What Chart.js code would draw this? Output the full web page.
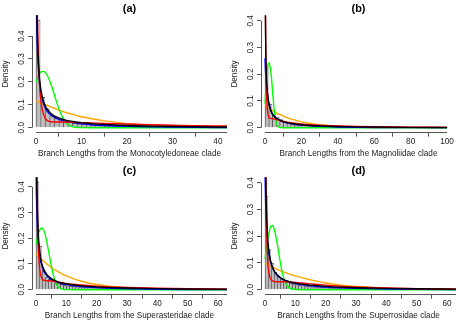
<!DOCTYPE html>
<html>
<head>
<meta charset="utf-8">
<script src="https://cdn.jsdelivr.net/npm/chart.js@4.4.1/dist/chart.umd.min.js"></script>
<style>
  html, body { margin: 0; padding: 0; background: #fff; }
  #grid { display: grid; grid-template-columns: 229px 229px; grid-template-rows: 162px 162px; width: 458px; height: 324px; }
  canvas { display: block; }
</style>
</head>
<body>
<div id="grid">
  <canvas id="panelA" width="229" height="162"></canvas>
  <canvas id="panelB" width="229" height="162"></canvas>
  <canvas id="panelC" width="229" height="162"></canvas>
  <canvas id="panelD" width="229" height="162"></canvas>
</div>
<script>
const yTicks = [0, 0.1, 0.2, 0.3, 0.4];
const yTickLabels = ["0.0", "0.1", "0.2", "0.3", "0.4"];

// (a) Monocotyledoneae
const xTicksA = [0, 10, 20, 30, 40];
const binWidthA = 1;
const histA = [0.47, 0.133, 0.082, 0.053, 0.041, 0.033, 0.027, 0.023, 0.02, 0.018,
    0.016, 0.014, 0.013, 0.012, 0.011, 0.01, 0.009, 0.0085, 0.008, 0.0075,
    0.007, 0.0065, 0.006, 0.0055, 0.005, 0.0046, 0.0042, 0.0038, 0.0035, 0.0032,
    0.003, 0.0027, 0.0025, 0.0023, 0.0021, 0.0019, 0.0017, 0.0016, 0.0015, 0.0014,
    0.0013, 0.0012];
const curveXA  = [0, 0.1, 0.25, 0.5, 0.75, 1, 1.5, 2, 2.5, 3, 3.5, 4, 4.5, 5, 5.5, 6, 6.5, 7, 8, 9, 10, 12, 15, 20, 25, 30, 35, 42];
const blackA   = [1.2, 0.7, 0.45, 0.3, 0.22, 0.175, 0.125, 0.097, 0.08, 0.068, 0.059, 0.052, 0.047, 0.043, 0.039, 0.036, 0.033, 0.031, 0.027, 0.024, 0.022, 0.018, 0.014, 0.0095, 0.007, 0.0052, 0.004, 0.003];
const redA     = [1.5, 0.9, 0.55, 0.33, 0.2, 0.13, 0.07, 0.042, 0.031, 0.027, 0.026, 0.025, 0.025, 0.025, 0.025, 0.025, 0.0248, 0.0245, 0.024, 0.023, 0.022, 0.021, 0.019, 0.016, 0.013, 0.011, 0.009, 0.0075];
const blueA    = [0.6, 0.5, 0.38, 0.27, 0.2, 0.16, 0.115, 0.088, 0.071, 0.06, 0.052, 0.046, 0.041, 0.037, 0.034, 0.031, 0.028, 0.026, 0.022, 0.019, 0.017, 0.013, 0.0095, 0.006, 0.0038, 0.0025, 0.0016, 0.0009];
const greenA   = [0.2, 0.205, 0.212, 0.225, 0.235, 0.242, 0.246, 0.242, 0.228, 0.205, 0.178, 0.146, 0.114, 0.085, 0.06, 0.04, 0.025, 0.015, 0.0045, 0.0012, 0.0003, 0, 0, 0, 0, 0, 0, 0];
const orangeA  = [0.117, 0.116, 0.115, 0.113, 0.111, 0.109, 0.105, 0.101, 0.097, 0.093, 0.089, 0.085, 0.081, 0.077, 0.074, 0.07, 0.067, 0.064, 0.058, 0.053, 0.048, 0.04, 0.03, 0.018, 0.012, 0.008, 0.005, 0.003];

// (b) Magnoliidae
const xTicksB = [0, 20, 40, 60, 80, 100];
const binWidthB = 2;
const histB = [0.23, 0.088, 0.052, 0.038, 0.03, 0.025, 0.021, 0.018, 0.015, 0.013,
    0.011, 0.0095, 0.0082, 0.007, 0.006, 0.0052, 0.0045, 0.0039, 0.0034, 0.003,
    0.0026, 0.0023, 0.002, 0.0018, 0.0016, 0.0014, 0.0012, 0.0011, 0.001, 0.0009,
    0.0008, 0.0007, 0.0007, 0.0006, 0.0006, 0.0005, 0.0005, 0.0004, 0.0004, 0.0004,
    0.0003, 0.0003, 0.0003, 0.0002, 0.0002, 0.0002, 0.0002, 0.0001, 0.0001, 0.0001];
const curveXB  = [0, 0.1, 0.25, 0.5, 1, 1.5, 2, 2.5, 3, 3.5, 4, 4.5, 5, 5.5, 6, 7, 8, 10, 12, 15, 20, 25, 30, 40, 50, 60, 80, 100];
const blackB   = [1.2, 0.6, 0.4, 0.27, 0.16, 0.118, 0.094, 0.078, 0.067, 0.058, 0.052, 0.047, 0.043, 0.039, 0.036, 0.032, 0.028, 0.023, 0.019, 0.015, 0.011, 0.0085, 0.0068, 0.0045, 0.0032, 0.0024, 0.0014, 0.0009];
const redB     = [1.5, 0.8, 0.45, 0.22, 0.1, 0.055, 0.04, 0.036, 0.035, 0.034, 0.034, 0.033, 0.033, 0.032, 0.031, 0.029, 0.027, 0.024, 0.021, 0.018, 0.014, 0.011, 0.009, 0.0065, 0.0048, 0.0036, 0.002, 0.0012];
const blueB    = [0.26, 0.24, 0.215, 0.19, 0.15, 0.12, 0.098, 0.082, 0.07, 0.061, 0.054, 0.048, 0.044, 0.04, 0.037, 0.032, 0.028, 0.022, 0.018, 0.014, 0.0095, 0.0068, 0.005, 0.0028, 0.0016, 0.001, 0.0004, 0.0002];
const greenB   = [0.09, 0.1, 0.12, 0.15, 0.2, 0.232, 0.242, 0.238, 0.22, 0.19, 0.15, 0.108, 0.07, 0.042, 0.023, 0.006, 0.0012, 0, 0, 0, 0, 0, 0, 0, 0, 0, 0, 0];
const orangeB  = [0.085, 0.0845, 0.084, 0.083, 0.08, 0.077, 0.075, 0.072, 0.07, 0.067, 0.065, 0.063, 0.061, 0.059, 0.057, 0.053, 0.05, 0.044, 0.038, 0.031, 0.022, 0.016, 0.011, 0.0058, 0.003, 0.0016, 0.0004, 0.0001];

// (c) Superasteridae
const xTicksC = [0, 10, 20, 30, 40, 50, 60];
const binWidthC = 1;
const histC = [0.42, 0.17, 0.075, 0.05, 0.04, 0.033, 0.028, 0.024, 0.021, 0.018,
    0.016, 0.014, 0.013, 0.012, 0.011, 0.01, 0.009, 0.0085, 0.008, 0.0075,
    0.007, 0.0065, 0.006, 0.0056, 0.0052, 0.0048, 0.0045, 0.0042, 0.0039, 0.0036,
    0.0034, 0.0032, 0.003, 0.0028, 0.0026, 0.0024, 0.0022, 0.0021, 0.002, 0.0019,
    0.0018, 0.0017, 0.0016, 0.0015, 0.0014, 0.0013, 0.0012, 0.0011, 0.001, 0.001,
    0.0009, 0.0009, 0.0008, 0.0008, 0.0007, 0.0007, 0.0006, 0.0006, 0.0005, 0.0005,
    0.0005, 0.0004, 0.0004];
const curveXC  = [0, 0.1, 0.25, 0.5, 0.75, 1, 1.5, 2, 2.5, 3, 3.5, 4, 4.5, 5, 5.5, 6, 6.5, 7, 8, 9, 10, 12, 15, 20, 25, 30, 40, 50, 63];
const blackC   = [1.2, 0.65, 0.43, 0.29, 0.22, 0.175, 0.125, 0.098, 0.081, 0.069, 0.06, 0.053, 0.048, 0.044, 0.04, 0.037, 0.034, 0.032, 0.028, 0.025, 0.023, 0.019, 0.015, 0.011, 0.0082, 0.0064, 0.0042, 0.0029, 0.0019];
const redC     = [1.5, 0.9, 0.55, 0.3, 0.18, 0.11, 0.06, 0.042, 0.037, 0.036, 0.035, 0.035, 0.035, 0.034, 0.033, 0.032, 0.031, 0.03, 0.028, 0.026, 0.024, 0.021, 0.018, 0.014, 0.011, 0.0088, 0.0057, 0.0037, 0.0022];
const blueC    = [0.5, 0.4, 0.32, 0.24, 0.19, 0.155, 0.115, 0.09, 0.074, 0.063, 0.055, 0.049, 0.044, 0.04, 0.036, 0.033, 0.031, 0.029, 0.025, 0.022, 0.02, 0.016, 0.012, 0.008, 0.0055, 0.0038, 0.0018, 0.0009, 0.0004];
const greenC   = [0.178, 0.183, 0.19, 0.203, 0.215, 0.225, 0.237, 0.24, 0.233, 0.216, 0.19, 0.16, 0.128, 0.096, 0.068, 0.045, 0.028, 0.016, 0.005, 0.0013, 0.0003, 0, 0, 0, 0, 0, 0, 0, 0];
const orangeC  = [0.14, 0.139, 0.137, 0.134, 0.131, 0.128, 0.122, 0.116, 0.111, 0.106, 0.101, 0.096, 0.092, 0.087, 0.083, 0.079, 0.076, 0.072, 0.065, 0.059, 0.054, 0.044, 0.033, 0.02, 0.013, 0.008, 0.003, 0.0012, 0.0004];

// (d) Superrosidae
const xTicksD = [0, 10, 20, 30, 40, 50, 60];
const binWidthD = 1;
const histD = [0.35, 0.15, 0.1, 0.065, 0.05, 0.04, 0.034, 0.029, 0.025, 0.022,
    0.019, 0.017, 0.015, 0.014, 0.013, 0.012, 0.011, 0.01, 0.0093, 0.0086,
    0.008, 0.0074, 0.0069, 0.0064, 0.006, 0.0056, 0.0052, 0.0048, 0.0045, 0.0042,
    0.0039, 0.0036, 0.0034, 0.0032, 0.003, 0.0028, 0.0026, 0.0024, 0.0022, 0.0021,
    0.002, 0.0019, 0.0018, 0.0017, 0.0016, 0.0015, 0.0014, 0.0013, 0.0012, 0.0011,
    0.001, 0.001, 0.0009, 0.0009, 0.0008, 0.0008, 0.0007, 0.0007, 0.0006, 0.0006,
    0.0005, 0.0005, 0.0005];
const curveXD  = [0, 0.1, 0.25, 0.5, 0.75, 1, 1.5, 2, 2.5, 3, 3.5, 4, 4.5, 5, 5.5, 6, 6.5, 7, 8, 9, 10, 12, 15, 20, 25, 30, 40, 50, 63];
const blackD   = [1.2, 0.65, 0.44, 0.3, 0.22, 0.175, 0.128, 0.1, 0.083, 0.071, 0.062, 0.056, 0.05, 0.046, 0.042, 0.039, 0.036, 0.034, 0.03, 0.027, 0.025, 0.021, 0.017, 0.0125, 0.0095, 0.0075, 0.005, 0.0034, 0.0022];
const redD     = [1.5, 0.9, 0.5, 0.25, 0.14, 0.09, 0.052, 0.038, 0.033, 0.031, 0.03, 0.03, 0.03, 0.03, 0.03, 0.03, 0.0298, 0.0295, 0.029, 0.028, 0.027, 0.025, 0.022, 0.017, 0.013, 0.01, 0.0062, 0.0038, 0.002];
const blueD    = [0.45, 0.38, 0.31, 0.24, 0.195, 0.162, 0.122, 0.098, 0.082, 0.07, 0.061, 0.054, 0.049, 0.045, 0.041, 0.038, 0.035, 0.033, 0.029, 0.026, 0.023, 0.019, 0.015, 0.01, 0.007, 0.005, 0.0026, 0.0014, 0.0007];
const greenD   = [0.116, 0.123, 0.135, 0.155, 0.175, 0.193, 0.222, 0.238, 0.24, 0.228, 0.205, 0.175, 0.14, 0.105, 0.075, 0.05, 0.032, 0.02, 0.007, 0.002, 0.0005, 0, 0, 0, 0, 0, 0, 0, 0];
const orangeD  = [0.1, 0.0995, 0.099, 0.097, 0.095, 0.094, 0.091, 0.088, 0.085, 0.082, 0.079, 0.077, 0.074, 0.072, 0.069, 0.067, 0.065, 0.063, 0.059, 0.055, 0.052, 0.045, 0.037, 0.025, 0.017, 0.012, 0.0055, 0.0026, 0.001];

const FONT = "'Liberation Sans', Arial, sans-serif";
const TEXT = "#222";
const AXIS = "#555";

/**
 * R style axis lines: y from first to last tick, x from 0 to axisEnd
 */
const axisLines = {
    id: "axisLines",
    afterDraw(chart, args, opts) {
        const { ctx, chartArea, scales } = chart;
        const x = scales.x, y = scales.y;
        const align = p => Math.round(p - 0.5) + 0.5;
        ctx.save();
        ctx.strokeStyle = AXIS;
        ctx.lineWidth = 1;
        ctx.beginPath();
        const lx = align(chartArea.left);
        ctx.moveTo(lx, y.getPixelForValue(y.ticks[0].value));
        ctx.lineTo(lx, y.getPixelForValue(y.ticks[y.ticks.length - 1].value));
        const by = align(chartArea.bottom);
        ctx.moveTo(x.getPixelForValue(x.ticks[0].value), by);
        ctx.lineTo(x.getPixelForValue(opts.end), by);
        ctx.stroke();
        ctx.restore();
    }
};

function curve(color, xs, ys) {
    return {
        type: "line",
        data: xs.map((v, i) => ({ x: v, y: ys[i] })),
        borderColor: color,
        borderWidth: 1.4,
        pointRadius: 0,
        cubicInterpolationMode: "monotone",
        fill: false
    };
}

function makePanel(id, p) {
    const histData = p.hist.map((v, i) => ({ x: (i + 0.5) * p.binWidth, y: v }));

    // first dataset is drawn on top
    new Chart(document.getElementById(id), {
        type: "line",
        data: {
            datasets: [
                curve("#000000", p.xs, p.black),
                curve("#ff0000", p.xs, p.red),
                curve("#0000ff", p.xs, p.blue),
                curve("#00ff00", p.xs, p.green),
                curve("#ffa500", p.xs, p.orange),
                {
                    type: "bar",
                    data: histData,
                    backgroundColor: "#bebebe",
                    borderColor: "#5a5a5a",
                    borderWidth: { top: 1, left: 1, right: 0, bottom: 0 },
                    borderSkipped: false,
                    barPercentage: 1,
                    categoryPercentage: 1
                }
            ]
        },
        options: {
            responsive: false,
            animation: false,
            devicePixelRatio: 1,
            layout: { padding: { left: 0, right: 2, top: 0, bottom: 0 } },
            plugins: {
                legend: { display: false },
                tooltip: { enabled: false },
                title: {
                    display: true,
                    text: p.title,
                    fullSize: false,
                    color: "#000",
                    font: { family: FONT, size: 11, weight: "bold", lineHeight: 1.2 },
                    padding: { top: 2, bottom: 0 }
                },
                axisLines: { end: p.axisEnd }
            },
            scales: {
                x: {
                    type: "linear",
                    min: p.xMin,
                    max: p.xMax,
                    offset: false,
                    afterBuildTicks: s => { s.ticks = p.xTicks.map(v => ({ value: v })); },
                    afterFit: s => { s.height = 29.3; },
                    grid: { drawOnChartArea: false, drawTicks: true, tickLength: 4, color: AXIS },
                    border: { display: false },
                    ticks: {
                        autoSkip: false, maxRotation: 0, padding: 0, color: TEXT,
                        font: { family: FONT, size: 8.2 },
                        callback: v => String(v)
                    },
                    title: {
                        display: true, text: p.xTitle, color: TEXT,
                        font: { family: FONT, size: 8.2, lineHeight: 1.2 },
                        padding: { top: 0, bottom: 3.6 }
                    }
                },
                y: {
                    type: "linear",
                    min: p.yMin,
                    max: p.yMax,
                    afterBuildTicks: s => { s.ticks = yTicks.map(v => ({ value: v })); },
                    afterFit: s => { s.width = 32; },
                    grid: { drawOnChartArea: false, drawTicks: true, tickLength: 4, color: AXIS },
                    border: { display: false },
                    ticks: {
                        autoSkip: false, minRotation: 90, maxRotation: 90, crossAlign: "center",
                        padding: 1, color: TEXT,
                        font: { family: FONT, size: 8.2 },
                        callback: (v, i) => yTickLabels[i]
                    },
                    title: {
                        display: true, text: "Density", color: TEXT,
                        font: { family: FONT, size: 8.2, lineHeight: 1.2 },
                        padding: { top: 1, bottom: 0 }
                    }
                }
            }
        },
        plugins: [axisLines]
    });
}

makePanel("panelA", {
    title: "(a)", xTitle: "Branch Lengths from the Monocotyledoneae clade",
    hist: histA, binWidth: binWidthA, xs: curveXA,
    black: blackA, red: redA, blue: blueA, green: greenA, orange: orangeA,
    xTicks: xTicksA, xMin: -0.88, xMax: 42, axisEnd: 42, yMin: -0.0218, yMax: 0.491
});
makePanel("panelB", {
    title: "(b)", xTitle: "Branch Lengths from the Magnoliidae clade",
    hist: histB, binWidth: binWidthB, xs: curveXB,
    black: blackB, red: redB, blue: blueB, green: greenB, orange: orangeB,
    xTicks: xTicksB, xMin: -2.2, xMax: 104.9, axisEnd: 100, yMin: -0.0187, yMax: 0.421
});
makePanel("panelC", {
    title: "(c)", xTitle: "Branch Lengths from the Superasteridae clade",
    hist: histC, binWidth: binWidthC, xs: curveXC,
    black: blackC, red: redC, blue: blueC, green: greenC, orange: orangeC,
    xTicks: xTicksC, xMin: -1.32, xMax: 62.97, axisEnd: 62.97, yMin: -0.0195, yMax: 0.4377
});
makePanel("panelD", {
    title: "(d)", xTitle: "Branch Lengths from the Superrosidae clade",
    hist: histD, binWidth: binWidthD, xs: curveXD,
    black: blackD, red: redD, blue: blueD, green: greenD, orange: orangeD,
    xTicks: xTicksD, xMin: -1.32, xMax: 62.97, axisEnd: 62.97, yMin: -0.0187, yMax: 0.421
});
</script>
</body>
</html>
